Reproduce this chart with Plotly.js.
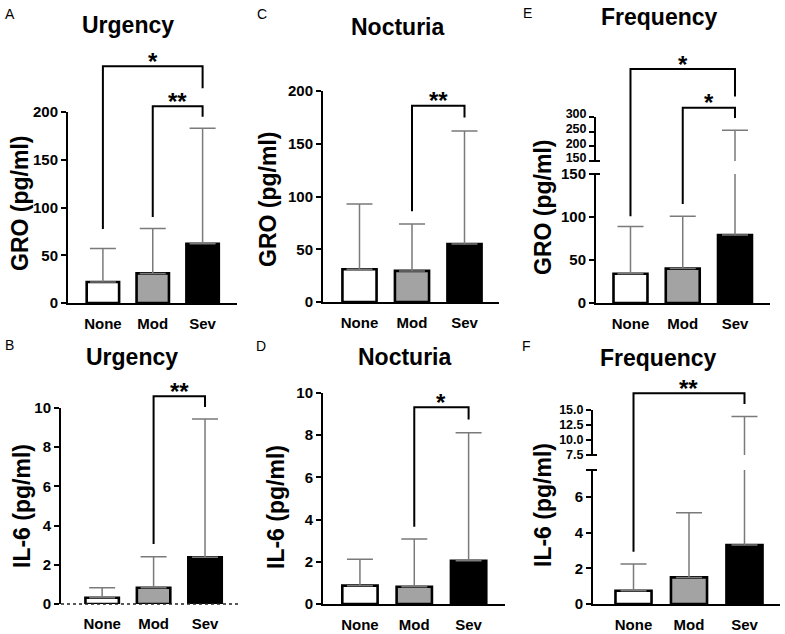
<!DOCTYPE html>
<html><head><meta charset="utf-8">
<script src="https://cdn.plot.ly/plotly-3.0.1.min.js"></script>
<style>html,body{margin:0;padding:0;background:#fff}#chart{width:785px;height:634px}</style>
</head><body><div id="chart"></div>
<script>
const categories = ['None', 'Mod', 'Sev'];

// GRO (pg/ml): mean and upper error (SD)
const groUrgencyMean = [22, 31, 62];
const groUrgencyErr = [35, 47, 121];
const groNocturiaMean = [31, 29.5, 55];
const groNocturiaErr = [62, 44.5, 107];
const groFrequencyMean = [34, 40, 79];
const groFrequencyErr = [55, 61, 176];

// IL-6 (pg/ml): mean and upper error (SD)
const il6UrgencyMean = [0.32, 0.83, 2.38];
const il6UrgencyErr = [0.51, 1.58, 7.06];
const il6NocturiaMean = [0.87, 0.82, 2.05];
const il6NocturiaErr = [1.25, 2.26, 6.07];
const il6FrequencyMean = [0.74, 1.49, 3.3];
const il6FrequencyErr = [1.5, 3.62, 10.6];

// tick labels
const groTicks = [0, 50, 100, 150, 200];
const groLowTicks = [0, 50, 100, 150];
const groHighTicks = [150, 200, 250, 300];
const il6Ticks = [0, 2, 4, 6, 8, 10];
const il6LowTicks = [0, 2, 4, 6, 7.5];
const il6LowText = ['0', '2', '4', '6', ''];
const il6HighTicks = [7.5, 10, 12.5, 15];
const il6HighText = ['7.5', '10.0', '12.5', '15.0'];

// significance comparisons: [from, to, label]
const sigGroUrgency = [['None', 'Sev', '*'], ['Mod', 'Sev', '**']];
const sigGroNocturia = [['Mod', 'Sev', '**']];
const sigGroFrequency = [['None', 'Sev', '*'], ['Mod', 'Sev', '*']];
const sigIl6Urgency = [['Mod', 'Sev', '**']];
const sigIl6Nocturia = [['Mod', 'Sev', '*']];
const sigIl6Frequency = [['None', 'Sev', '**']];

const W = 785, H = 634;
const FONT = 'Arial, "Liberation Sans", sans-serif';
const fills = ['#ffffff', '#a3a3a3', '#000000'];
const px = v => v / W;
const py = v => 1 - v / H;

// layout of each panel (pixel boxes) and bracket levels [top, leftEnd, rightEnd] in axis units
const panels = [
  {letter: 'A', letterPos: [10, 14], title: 'Urgency', titlePos: [128, 25], ytitle: 'GRO (pg/ml)', ytitlePos: [20, 204],
   xpx: [68, 237], xrange: [-0.70, 2.69],
   low: {ypx: [303, 112], range: [0, 200], tickvals: groTicks},
   mean: groUrgencyMean, err: groUrgencyErr, sig: sigGroUrgency, levels: [[248, 77.5, 225], [206, 90, 195]]},
  {letter: 'C', letterPos: [262, 14], title: 'Nocturia', titlePos: [398, 27], ytitle: 'GRO (pg/ml)', ytitlePos: [268, 200],
   xpx: [323, 499], xrange: [-0.695, 2.657],
   low: {ypx: [302, 91], range: [0, 200], tickvals: groTicks},
   mean: groNocturiaMean, err: groNocturiaErr, sig: sigGroNocturia, levels: [[186, 86, 175]]},
  {letter: 'E', letterPos: [527, 13], title: 'Frequency', titlePos: [659, 17], ytitle: 'GRO (pg/ml)', ytitlePos: [543, 208],
   xpx: [596, 770], xrange: [-0.66, 2.67],
   low: {ypx: [303, 174], range: [0, 150], tickvals: groLowTicks},
   high: {ypx: [161, 117], range: [150, 300], tickvals: groHighTicks, shift: -3},
   mean: groFrequencyMean, err: groFrequencyErr, sig: sigGroFrequency, levels: [[272, 101, 240], [227, 115, 215]]},
  {letter: 'B', letterPos: [9, 345], title: 'Urgency', titlePos: [132, 357], ytitle: 'IL-6 (pg/ml)', ytitlePos: [22, 506],
   xpx: [61, 240], xrange: [-0.8, 2.68], dottedBase: true,
   low: {ypx: [604, 408], range: [0, 10], tickvals: il6Ticks},
   mean: il6UrgencyMean, err: il6UrgencyErr, sig: sigIl6Urgency, levels: [[10.6, 3.06, 10.05]]},
  {letter: 'D', letterPos: [261, 346], title: 'Nocturia', titlePos: [405, 357], ytitle: 'IL-6 (pg/ml)', ytitlePos: [276, 507],
   xpx: [323, 505], xrange: [-0.68, 2.67],
   low: {ypx: [604, 393], range: [0, 10], tickvals: il6Ticks},
   mean: il6NocturiaMean, err: il6NocturiaErr, sig: sigIl6Nocturia, levels: [[9.32, 3.66, 8.75]]},
  {letter: 'F', letterPos: [526, 346], title: 'Frequency', titlePos: [658, 358], ytitle: 'IL-6 (pg/ml)', ytitlePos: [543, 505],
   xpx: [593, 780], xrange: [-0.73, 2.64],
   low: {ypx: [604, 470], range: [0, 7.5], tickvals: il6LowTicks, ticktext: il6LowText},
   high: {ypx: [455, 410], range: [7.5, 15], tickvals: il6HighTicks, ticktext: il6HighText},
   mean: il6FrequencyMean, err: il6FrequencyErr, sig: sigIl6Frequency, levels: [[11.79, 2.93, 11.19]]}
];

const traces = [];
const layout = {
  width: W, height: H, margin: {l: 0, r: 0, t: 0, b: 0},
  paper_bgcolor: '#ffffff', plot_bgcolor: 'rgba(0,0,0,0)',
  showlegend: false, bargap: 0.35,
  font: {family: FONT, color: '#000'},
  shapes: [], annotations: []
};

let yi = 0;
panels.forEach((p, k) => {
  const xi = k + 1;
  const xname = 'x' + (xi === 1 ? '' : xi);
  const xkey = 'xaxis' + (xi === 1 ? '' : xi);
  const segs = p.high ? [p.low, p.high] : [p.low];
  const yids = [];
  segs.forEach((s, j) => {
    yi += 1;
    const yname = 'y' + (yi === 1 ? '' : yi);
    const ykey = 'yaxis' + (yi === 1 ? '' : yi);
    yids.push(yname);
    const labels = (s.ticktext || s.tickvals.map(String)).map(t => t ? '<b>' + t + '</b>' : '');
    layout[ykey] = {
      domain: [py(s.ypx[0]), py(s.ypx[1])], range: s.range, anchor: xname,
      showline: true, linecolor: '#000', linewidth: 2,
      ticks: 'outside', ticklen: 5, tickwidth: 2, tickcolor: '#000',
      tickmode: 'array', tickvals: s.tickvals, ticktext: labels,
      ticklabelshift: s.shift || 0,
      tickfont: {family: FONT, size: j === 1 ? 12.5 : 15, color: '#000', weight: 700},
      showgrid: false, zeroline: false, fixedrange: true
    };
    traces.push({
      type: 'bar', x: categories, y: p.mean, xaxis: xname, yaxis: yname,
      marker: {color: fills, line: {color: '#000', width: 2.6}},
      error_y: {type: 'data', array: p.err, arrayminus: p.err.map(() => 0), symmetric: false,
                color: '#7a7a7a', thickness: 1.5, width: 13},
      hoverinfo: 'skip', cliponaxis: true
    });
  });
  layout[xkey] = {
    domain: [px(p.xpx[0]), px(p.xpx[1])], range: p.xrange, anchor: yids[0], type: 'category',
    showline: !p.dottedBase, linecolor: '#000', linewidth: 2,
    ticks: 'outside', ticklen: 6, tickcolor: 'rgba(0,0,0,0)',
    tickfont: {family: FONT, size: 15, color: '#000', weight: 700},
    showgrid: false, zeroline: false, fixedrange: true
  };
  if (p.dottedBase) {
    layout.shapes.push({type: 'line', xref: 'paper', yref: 'paper',
      x0: px(p.xpx[0]), x1: px(p.xpx[1]), y0: py(p.low.ypx[0]), y1: py(p.low.ypx[0]),
      line: {color: '#222', width: 1.5, dash: 'dot'}});
  }
  // axis break marks
  if (p.high) {
    [p.low.ypx[1], p.high.ypx[0]].forEach(yy => {
      layout.shapes.push({type: 'line', xref: 'paper', yref: 'paper',
        x0: px(p.xpx[0] - 5), x1: px(p.xpx[0] + 4), y0: py(yy), y1: py(yy),
        line: {color: '#000', width: 2}});
    });
  }
  // significance brackets
  const xf = c => px(p.xpx[0]) + (categories.indexOf(c) - p.xrange[0]) / (p.xrange[1] - p.xrange[0]) * (px(p.xpx[1]) - px(p.xpx[0]));
  const yf = v => py(p.low.ypx[0]) + (v - p.low.range[0]) / (p.low.range[1] - p.low.range[0]) * (py(p.low.ypx[1]) - py(p.low.ypx[0]));
  p.sig.forEach((s, j) => {
    const lv = p.levels[j];
    const x0 = xf(s[0]), x1 = xf(s[1]);
    layout.shapes.push({type: 'path', xref: 'paper', yref: 'paper',
      path: `M${x0},${yf(lv[1])} L${x0},${yf(lv[0])} L${x1},${yf(lv[0])} L${x1},${yf(lv[2])}`,
      line: {color: '#000', width: 2}});
    layout.annotations.push({xref: 'paper', yref: 'paper', x: (x0 + x1) / 2, y: yf(lv[0]),
      text: s[2], showarrow: false, xanchor: 'center', yanchor: 'middle', yshift: 5,
      font: {family: FONT, size: 24, color: '#000', weight: 700}});
  });
  // titles and letters
  layout.annotations.push({xref: 'paper', yref: 'paper', x: px(p.titlePos[0]), y: py(p.titlePos[1]),
    text: p.title, showarrow: false, xanchor: 'center', yanchor: 'middle',
    font: {family: FONT, size: 23, color: '#000', weight: 700}});
  layout.annotations.push({xref: 'paper', yref: 'paper', x: px(p.letterPos[0]), y: py(p.letterPos[1]),
    text: p.letter, showarrow: false, xanchor: 'center', yanchor: 'middle',
    font: {family: FONT, size: 14, color: '#000'}});
  layout.annotations.push({xref: 'paper', yref: 'paper', x: px(p.ytitlePos[0]), y: py(p.ytitlePos[1]),
    text: p.ytitle, showarrow: false, xanchor: 'center', yanchor: 'middle', textangle: -90,
    font: {family: FONT, size: 23, color: '#000', weight: 700}});
});

Plotly.newPlot('chart', traces, layout, {displayModeBar: false, staticPlot: true});
</script>
</body></html>
